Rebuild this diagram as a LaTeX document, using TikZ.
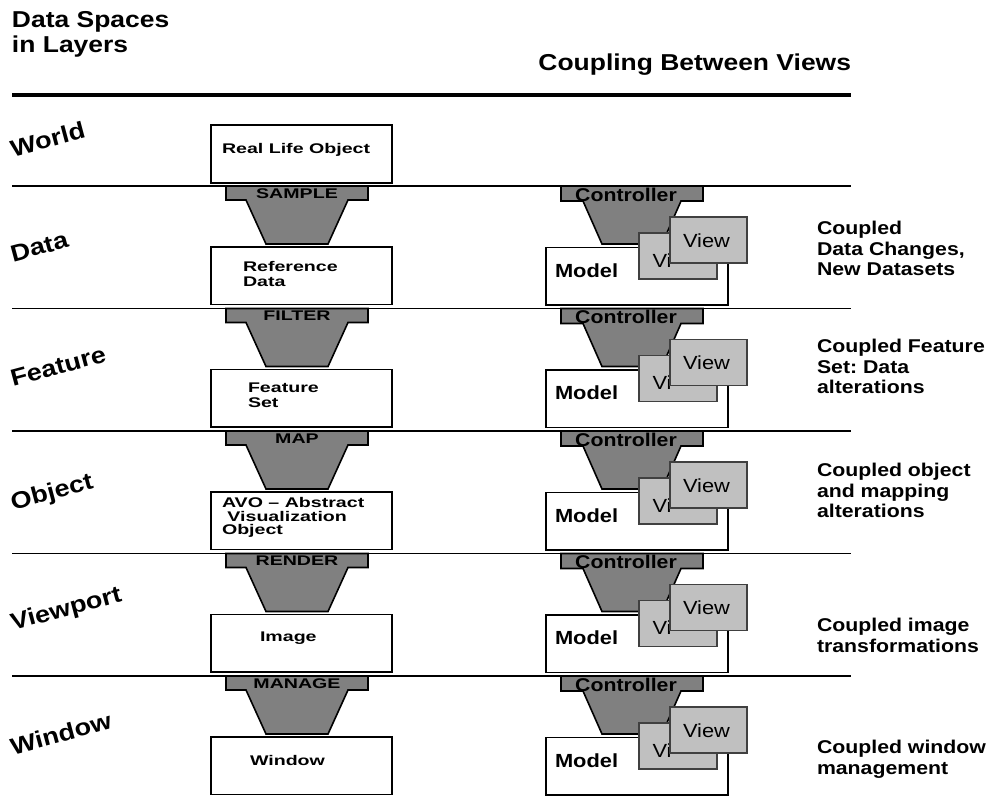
\documentclass[tikz,border=0pt]{standalone}
\usepackage{fontspec}
\setmainfont{Liberation Sans}
\newfontfamily\stf[FakeStretch=1.15]{Liberation Sans}
\newfontfamily\wdf[FakeStretch=1.4]{Liberation Sans}
\definecolor{fungray}{HTML}{808080}
\definecolor{viewgray}{HTML}{C0C0C0}
\definecolor{viewedge}{HTML}{404040}
\frenchspacing
\begin{document}
\begin{tikzpicture}[x=1pt,y=-1pt,
  every node/.style={inner sep=0pt,outer sep=0pt},
  sepline/.style={line width=1.8pt,black},
  topline/.style={line width=4.5pt,black},
  funnel/.style={fill=fungray,draw=black,line width=1.6pt,line join=miter},
  boxst/.style={draw=black,fill=white,line width=1.6pt},
  viewbox/.style={draw=viewedge,fill=viewgray,line width=1.1pt},
  title/.style={font=\stf\bfseries\fontsize{23}{25}\selectfont,align=left},
  layer/.style={font=\stf\bfseries\fontsize{23.5}{25}\selectfont,rotate=15,anchor=base west},
  bxtxt/.style={font=\wdf\bfseries\fontsize{14}{15}\selectfont,align=left},
  funtxt/.style={font=\wdf\bfseries\fontsize{14}{15}\selectfont,anchor=base},
  ctltxt/.style={font=\stf\bfseries\fontsize{18.5}{20}\selectfont,anchor=base},
  modeltxt/.style={font=\stf\bfseries\fontsize{19}{20}\selectfont,anchor=base west},
  viewtxt/.style={font=\stf\fontsize{19}{20}\selectfont,anchor=base west},
  righttxt/.style={font=\stf\bfseries\fontsize{18.5}{20.5}\selectfont,align=left,anchor=north west}]
\useasboundingbox (0,0) rectangle (986,796);

% titles
\node[title,anchor=north west] (t1) at (12,11.2) {Data Spaces\\in Layers};
\node[title,anchor=base east] (t2) at (851,70) {Coupling Between Views};
\draw[topline] (12,95) -- (851,95);

% world row
\node[layer] (lworld) at (13,157) {World};
\draw[boxst] (211,125) rectangle (392,183);
\node[bxtxt,anchor=base west] (rlo) at (222,153) {Real Life Object};

% rows
\foreach \S/\lab/\nm/\lay/\lb in {186/SAMPLE/d/Data/76, 308.5/FILTER/f/Feature/78, 431/MAP/o/Object/79, 553.5/RENDER/v/Viewport/77, 676/MANAGE/w/Window/79}{
  \draw[sepline] (12,\S) -- (851,\S);
  \node[layer] (lay\nm) at (13,\S+\lb) {\lay};
  % left funnel and box
  \draw[funnel] (226,\S) -- (368,\S) -- (368,\S+14) -- (348,\S+14) -- (328,\S+58)
     -- (266,\S+58) -- (246,\S+14) -- (226,\S+14) -- cycle;
  \node[funtxt] (fl\nm) at (297,\S+12) {\lab};
  \draw[boxst] (211,\S+61) rectangle (392,\S+118.5);
  % right: model, controller, views
  \draw[boxst] (546,\S+61.5) rectangle (728,\S+119);
  \node[modeltxt] (model\nm) at (555,\S+91) {Model};
  \draw[funnel] (561,\S) -- (703,\S) -- (703,\S+15) -- (681,\S+15) -- (662,\S+58)
     -- (602,\S+58) -- (583,\S+15) -- (561,\S+15) -- cycle;
  \node[ctltxt] (ctl\nm) at (626,\S+15) {Controller};
  \draw[viewbox] (639,\S+47) rectangle (717,\S+93);
  \begin{scope}
    \clip (639,\S+47) rectangle (670,\S+93);
    \node[viewtxt] (vb\nm) at (652.5,\S+81) {View};
  \end{scope}
  \draw[viewbox] (670,\S+31) rectangle (747,\S+77);
  \node[viewtxt] (vf\nm) at (683,\S+61) {View};
}

% box texts
\node[bxtxt,anchor=north west] (refd) at (243,186+86-10.2) {Reference\\Data};
\node[bxtxt,anchor=north west] (feat) at (248,308.5+85-10.2) {Feature\\Set};
\node[bxtxt,anchor=north west,font=\wdf\bfseries\fontsize{14}{13.5}\selectfont] (avo) at (222,508-10.2) {AVO – Abstract\\\hphantom{l}Visualization\\Object};
\node[bxtxt,anchor=base west] (img) at (260,553.5+87.5) {Image};
\node[bxtxt,anchor=base west] (win) at (250,676+89) {Window};

% right texts
\node[righttxt] (r1) at (817,221.5) {Coupled\\Data Changes,\\New Datasets};
\node[righttxt] (r2) at (817,339.5) {Coupled Feature\\Set: Data\\alterations};
\node[righttxt] (r3) at (817,463.5) {Coupled object\\and mapping\\alterations};
\node[righttxt] (r4) at (817,618.5) {Coupled image\\transformations};
\node[righttxt] (r5) at (817,740.5) {Coupled window\\management};
\end{tikzpicture}
\end{document}
